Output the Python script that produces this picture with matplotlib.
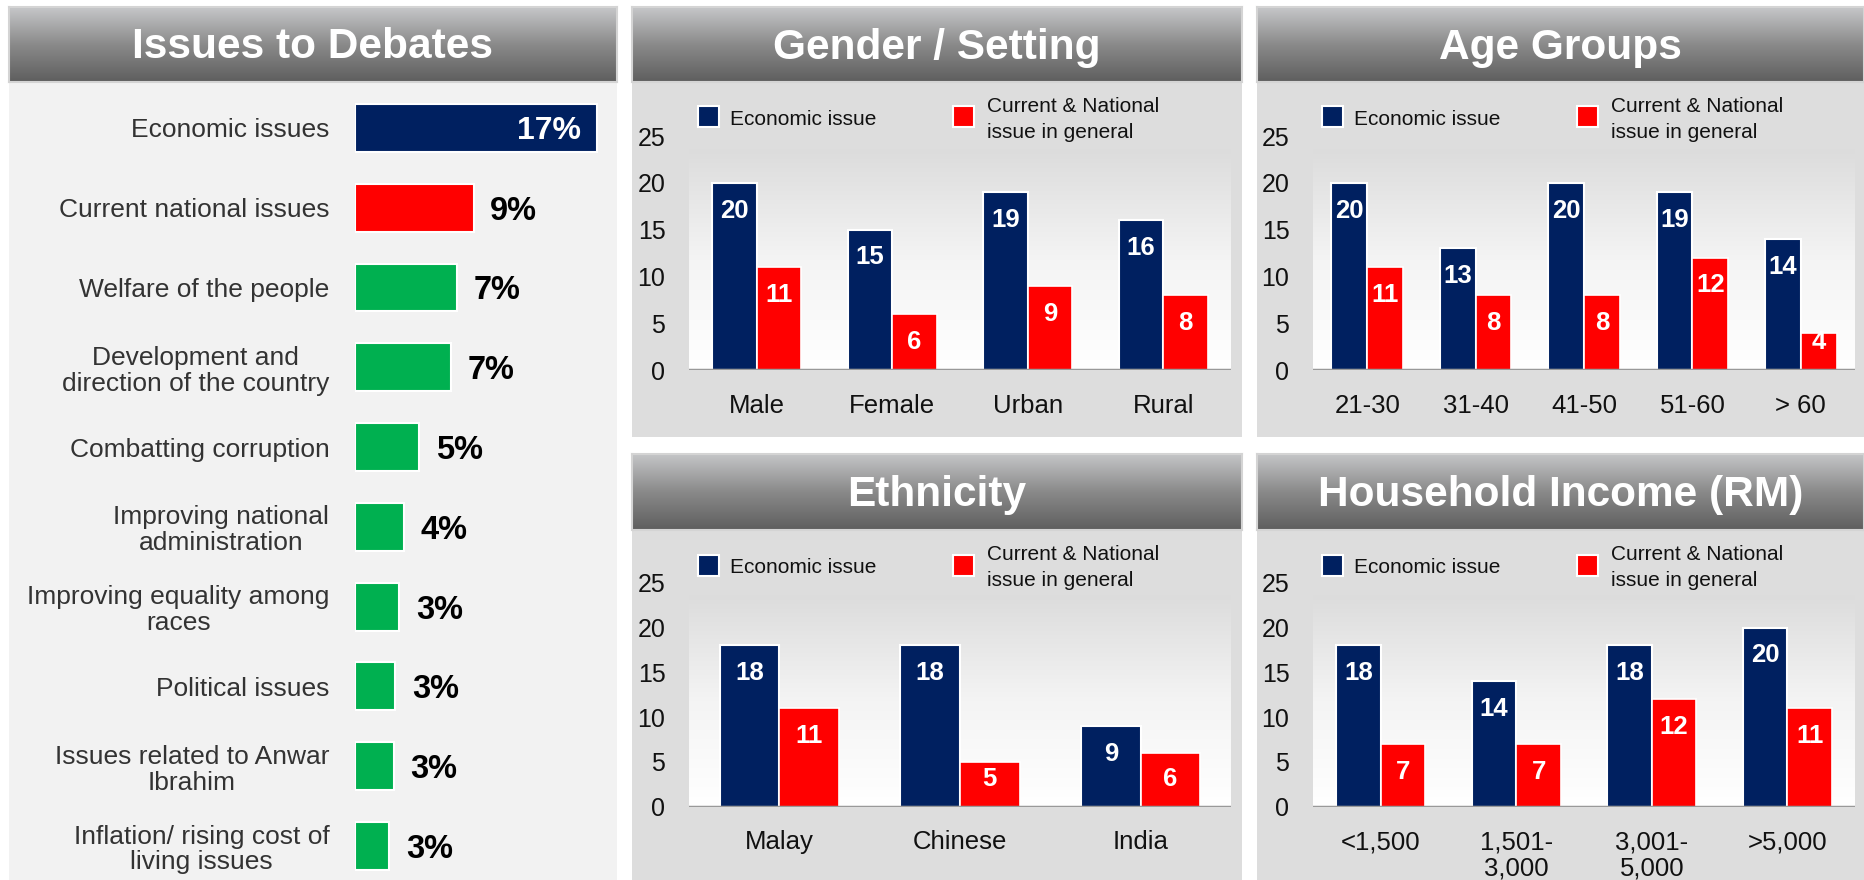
import numpy as np
import matplotlib
matplotlib.use("Agg")
import matplotlib.pyplot as plt
from matplotlib.patches import Rectangle
from matplotlib.colors import LinearSegmentedColormap

plt.rcParams['font.family'] = ['Liberation Sans', 'DejaVu Sans']

# ---------------- data ----------------
issues = ["Economic issues", "Current national issues", "Welfare of the people",
          "Development and\ndirection of the country", "Combatting corruption",
          "Improving national\nadministration", "Improving equality among\nraces",
          "Political issues", "Issues related to Anwar\nIbrahim",
          "Inflation/ rising cost of\nliving issues"]
issue_values = [16.9, 8.3, 7.1, 6.7, 4.5, 3.4, 3.1, 2.8, 2.7, 2.4]
issue_labels = ["17%", "9%", "7%", "7%", "5%", "4%", "3%", "3%", "3%", "3%"]

gender_cats = ["Male", "Female", "Urban", "Rural"]
gender_econ = [20, 15, 19, 16]
gender_curr = [11, 6, 9, 8]

age_cats = ["21-30", "31-40", "41-50", "51-60", "> 60"]
age_econ = [20, 13, 20, 19, 14]
age_curr = [11, 8, 8, 12, 4]

eth_cats = ["Malay", "Chinese", "India"]
eth_econ = [18, 18, 9]
eth_curr = [11, 5, 6]

inc_cats = ["<1,500", "1,501-\n3,000", "3,001-\n5,000", ">5,000"]
inc_econ = [18, 14, 18, 20]
inc_curr = [7, 7, 12, 11]

yticks = [0, 5, 10, 15, 20, 25]
legend_labels = ["Economic issue", "Current & National\nissue in general"]

# ---------------- style ----------------
NAVY = '#002060'
RED = '#ff0000'
GREEN = '#00b050'
issue_colors = [NAVY, RED] + [GREEN] * 8

W, H = 1864, 880
fig = plt.figure(figsize=(W / 100, H / 100), dpi=100)
fig.patch.set_facecolor('white')


def box(x0, y0, x1, y1):
    return [x0 / W, 1 - y1 / H, (x1 - x0) / W, (y1 - y0) / H]


hdr_cmap = LinearSegmentedColormap.from_list('hdr', ['#5e5e5e', '#8a8a8a', '#c6c7c9'])
plot_cmap = LinearSegmentedColormap.from_list('pl', ['#ffffff', '#f4f4f4', '#dcdcdc'])


def header(x0, y0, x1, y1, title):
    ax = fig.add_axes(box(x0, y0, x1, y1))
    grad = np.linspace(0, 1, 256).reshape(-1, 1)
    ax.imshow(grad, aspect='auto', cmap=hdr_cmap, origin='lower', extent=[0, 1, 0, 1])
    ax.set_xticks([]); ax.set_yticks([])
    for s in ax.spines.values():
        s.set_color('#d4d4d4'); s.set_linewidth(1.5)
    ax.text(0.5, 0.46, title, ha='center', va='center', color='white',
            fontsize=30.5, fontweight='bold', transform=ax.transAxes)


def body(x0, y0, x1, y1, color):
    fig.patches.append(Rectangle((x0 / W, 1 - y1 / H), (x1 - x0) / W, (y1 - y0) / H,
                                 transform=fig.transFigure, facecolor=color,
                                 edgecolor='none', zorder=-5))


# panel backgrounds & headers
body(9, 82, 617, 880, '#f2f2f2')
body(632, 82, 1242, 437, '#dddddd')
body(1257, 82, 1864, 437, '#dddddd')
body(632, 530, 1242, 880, '#dddddd')
body(1257, 530, 1864, 880, '#dddddd')
header(9, 7, 617, 82, "Issues to Debates")
header(632, 7, 1242, 82, "Gender / Setting")
header(1257, 7, 1864, 82, "Age Groups")
header(632, 454, 1242, 530, "Ethnicity")
header(1257, 454, 1864, 530, "Household Income (RM)")

# ---------------- left: horizontal bars ----------------
axL = fig.add_axes(box(355, 88, 617, 880))
axL.set_facecolor('none')
yl = np.arange(len(issues))
axL.barh(yl, issue_values, height=0.6, color=issue_colors, edgecolor='white', linewidth=1.5)
axL.set_xlim(0, 262 / 14.3)
axL.set_ylim(9.426, -0.5)
axL.set_xticks([])
axL.set_yticks(yl)
axL.set_yticklabels(issues, fontsize=19, color='#333333', linespacing=1.1)
for lbl in axL.get_yticklabels():
    lbl.set_multialignment('center')
axL.tick_params(axis='y', length=0, pad=18.5)
for s in axL.spines.values():
    s.set_visible(False)
for i, (v, lab) in enumerate(zip(issue_values, issue_labels)):
    if i == 0:
        axL.annotate(lab, xy=(v, i), xytext=(-11.5, -2), textcoords='offset points',
                     ha='right', va='center', fontsize=23, fontweight='bold', color='white')
    else:
        axL.annotate(lab, xy=(v, i), xytext=(12, -2.5), textcoords='offset points',
                     ha='left', va='center', fontsize=23.5, fontweight='bold', color='black')


# ---------------- grouped bar panels ----------------
def grouped(x0, x1, ytop, ybot, cats, econ, curr, legend_y):
    ax = fig.add_axes(box(x0, ytop, x1, ybot))
    n = len(cats)
    x = np.arange(n)
    ax.set_xlim(-0.5, n - 0.5)
    ax.set_ylim(0, 25)
    ax.set_facecolor('none')
    grad = np.linspace(0, 1, 256).reshape(-1, 1)
    ax.imshow(grad, aspect='auto', cmap=plot_cmap, origin='lower',
              extent=[-0.5, n - 0.5, 0, 23.6], zorder=0)
    w = 0.33
    ax.bar(x - w / 2, econ, width=w, color=NAVY, edgecolor='white', linewidth=1.5, zorder=2)
    ax.bar(x + w / 2, curr, width=w, color=RED, edgecolor='white', linewidth=1.2, zorder=2)
    ax.axhline(0, color='#999999', linewidth=2.5, zorder=3)
    pt_per_unit = (ybot - ytop) / 25 * 0.72
    for xs, vals in ((x - w / 2, econ), (x + w / 2, curr)):
        for xi, v in zip(xs, vals):
            off = min(20, v * pt_per_unit - 20)
            ax.annotate(str(v), xy=(xi, v), xytext=(0, -off), textcoords='offset points',
                        ha='center', va='center', fontsize=18.5, fontweight='bold',
                        color='white', zorder=4)
    ax.set_yticks(yticks)
    ax.set_yticklabels([str(t) for t in yticks], fontsize=18, color='#111111')
    ax.set_xticks(x)
    ax.set_xticklabels(cats, fontsize=18.5, color='#111111', linespacing=1.1)
    for lbl in ax.get_xticklabels():
        lbl.set_multialignment('center')
    ax.tick_params(axis='y', length=0, pad=17)
    ax.tick_params(axis='x', length=0, pad=17)
    for s in ax.spines.values():
        s.set_visible(False)
    # legend (manual)
    sq = 21
    for (dx, tx, col, lab) in [(9, 41, NAVY, legend_labels[0]), (264, 298, RED, legend_labels[1])]:
        fig.patches.append(Rectangle(((x0 + dx) / W, 1 - (legend_y + sq / 2) / H), sq / W, sq / H,
                                     transform=fig.transFigure, facecolor=col,
                                     edgecolor='white', linewidth=1.5, zorder=5))
        fig.text((x0 + tx) / W, 1 - (legend_y + 2.5) / H, lab, ha='left', va='center',
                 fontsize=15, color='#111111', linespacing=1.5)
    return ax


grouped(689, 1231, 136, 370, gender_cats, gender_econ, gender_curr, 117)
grouped(1313, 1855, 136, 370, age_cats, age_econ, age_curr, 117)
grouped(689, 1231, 582.7, 806.7, eth_cats, eth_econ, eth_curr, 565)
grouped(1313, 1855, 582.7, 806.7, inc_cats, inc_econ, inc_curr, 565)

fig.savefig('out.png', dpi=100, facecolor='white')
